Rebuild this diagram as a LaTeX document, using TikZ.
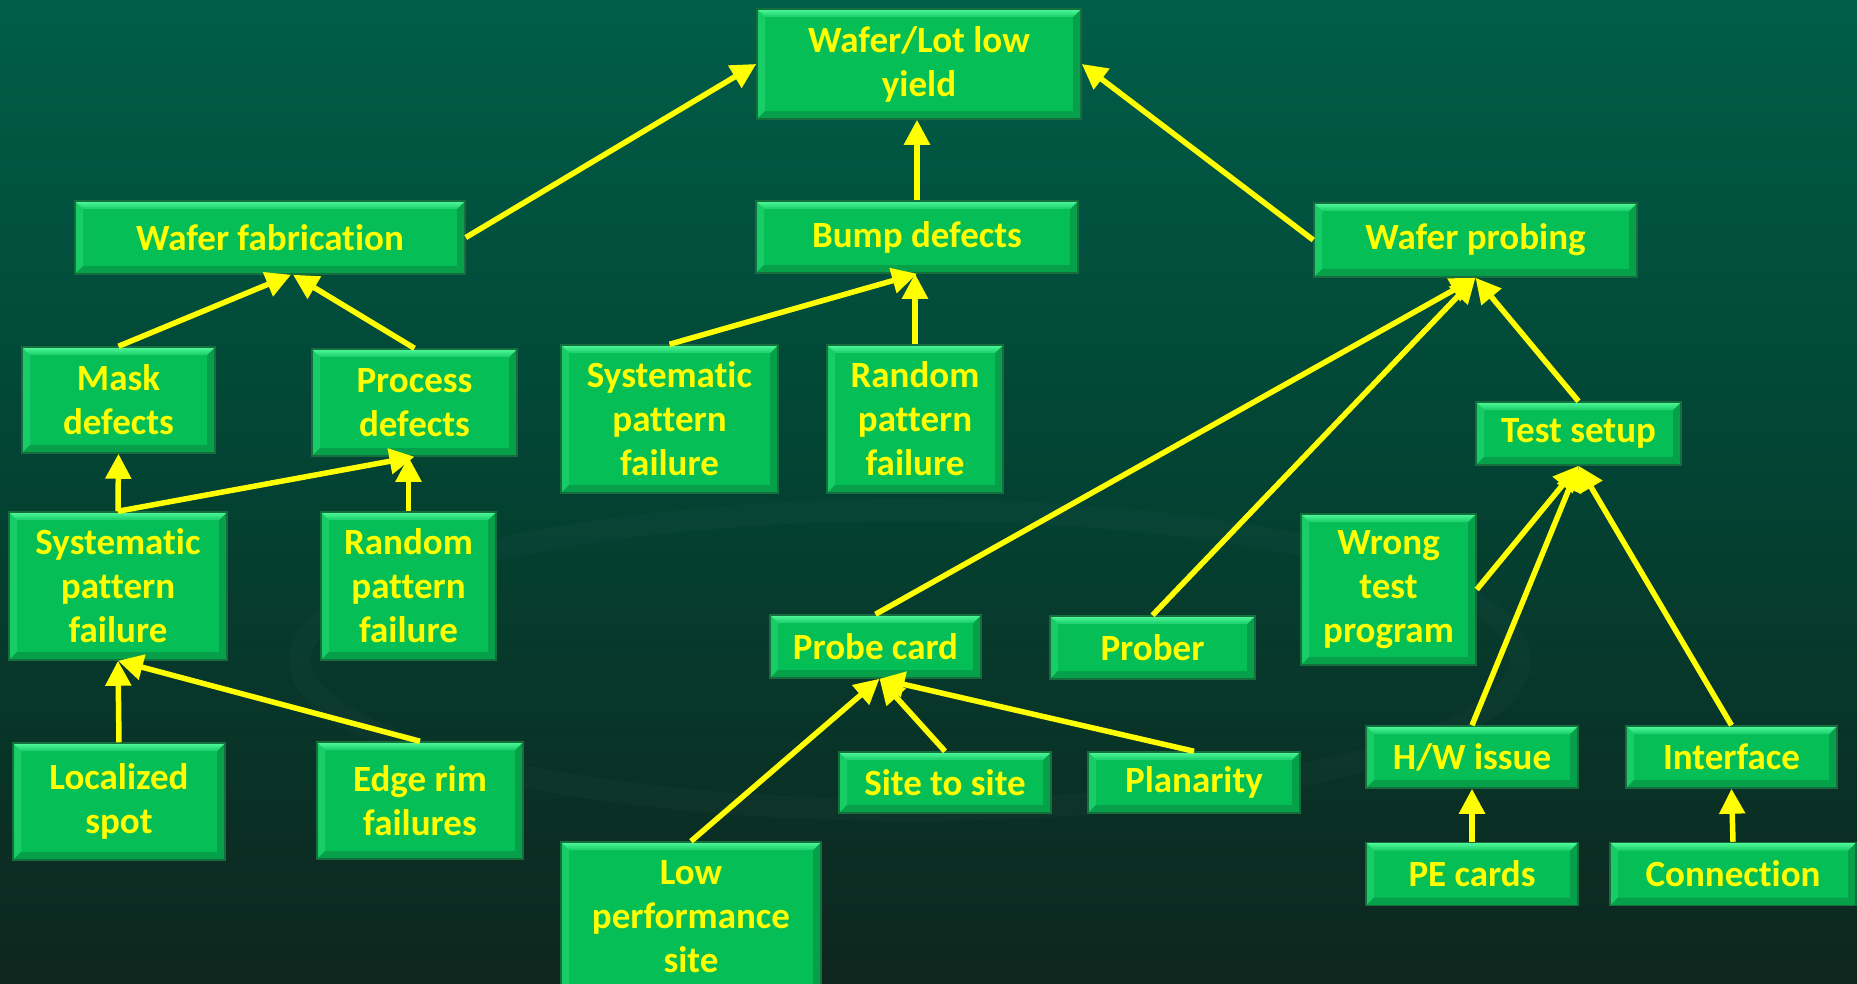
\documentclass[tikz,border=0pt]{standalone}
\usepackage{fontspec}
\setmainfont{Carlito}[Ligatures=NoCommon]
\usetikzlibrary{arrows.meta}

% palette
\definecolor{bgtop}{RGB}{0,108,82}
\definecolor{bgupper}{RGB}{0,94,72}
\definecolor{bgmid}{RGB}{3,66,50}
\definecolor{bglow}{RGB}{14,38,30}
\definecolor{bgbot}{RGB}{14,28,24}
\definecolor{boxfill}{RGB}{6,190,86}
\definecolor{boxline}{RGB}{22,110,60}
\definecolor{bevlight}{RGB}{80,250,155}
\definecolor{bevside}{RGB}{24,205,104}
\definecolor{bevdark}{RGB}{6,160,74}
\definecolor{arrowyellow}{RGB}{255,255,0}

\pgfdeclareverticalshading{bgshade}{100bp}{%
  color(0bp)=(bgbot); color(25bp)=(bglow); color(50bp)=(bgmid);
  color(75bp)=(bgupper); color(100bp)=(bgtop)}

\newcommand{\bev}{8pt}

\tikzset{
  box/.style={rectangle, fill=boxfill, draw=boxline, line width=1.5pt,
    text=arrowyellow, align=center, inner sep=0pt,
    font=\fontsize{37}{44}\selectfont\bfseries,
    path picture={
      \coordinate (pa) at (path picture bounding box.north west);
      \coordinate (pb) at (path picture bounding box.north east);
      \coordinate (pc) at (path picture bounding box.south east);
      \coordinate (pd) at (path picture bounding box.south west);
      \fill[bevside] (pa) -- ([xshift=\bev,yshift=-\bev]pa) -- ([xshift=\bev,yshift=\bev]pd) -- (pd) -- cycle;
      \fill[bevdark] (pb) -- ([xshift=-\bev,yshift=-\bev]pb) -- ([xshift=-\bev,yshift=\bev]pc) -- (pc) -- cycle;
      \fill[bevdark] (pd) -- ([xshift=\bev,yshift=\bev]pd) -- ([xshift=-\bev,yshift=\bev]pc) -- (pc) -- cycle;
      \shade[top color=bevlight, bottom color=bevside]
        (pa) -- (pb) -- ([xshift=-\bev,yshift=-\bev]pb) -- ([xshift=\bev,yshift=-\bev]pa) -- cycle;
    }},
  conn/.style={draw=arrowyellow, line width=5.5pt,
    -{Triangle[length=25pt,width=25pt]}},
  ring/.style={draw=white, draw opacity=0.02, line width=22pt}
}

\begin{document}
\begin{tikzpicture}[x=1pt,y=-1pt]
  \useasboundingbox (0,0) rectangle (1857,983);
  \shade[shading=bgshade] (0,0) rectangle (1857,983);
  % faint backdrop ring
  \draw[ring] (910,660) ellipse (610 and 150);

  % top level
  \node[box, minimum width=324pt, minimum height=110pt] (top) at (919,64) {Wafer/Lot low\\yield};

  % second level
  \node[box, minimum width=390pt, minimum height=73pt] (wfab) at (270,237.5) {Wafer fabrication};
  \node[box, minimum width=322pt, minimum height=72pt] (bump) at (917,237) {Bump defects};
  \node[box, minimum width=323pt, minimum height=74pt] (wprob) at (1475.5,240) {Wafer probing};

  % wafer fabrication branch
  \node[box, minimum width=193pt, minimum height=106pt] (mask) at (118.5,400) {Mask\\defects};
  \node[box, minimum width=205pt, minimum height=107pt] (process) at (414.5,402.5) {Process\\defects};
  \node[box, minimum width=218pt, minimum height=148pt] (sysL) at (118,586) {Systematic\\pattern\\failure};
  \node[box, minimum width=175pt, minimum height=148pt] (randL) at (408.5,586) {Random\\pattern\\failure};
  \node[box, minimum width=212pt, minimum height=117pt] (loc) at (119,801.5) {Localized\\spot};
  \node[box, minimum width=206pt, minimum height=117pt] (edge) at (420,800.5) {Edge rim\\failures};

  % bump branch
  \node[box, minimum width=217pt, minimum height=148pt] (sysM) at (669.5,419) {Systematic\\pattern\\failure};
  \node[box, minimum width=176pt, minimum height=148pt] (randM) at (915,419) {Random\\pattern\\failure};

  % probing branch
  \node[box, minimum width=211pt, minimum height=63pt] (probecard) at (875.5,646.5) {Probe card};
  \node[box, minimum width=205pt, minimum height=63pt] (prober) at (1152.5,647.5) {Prober};
  \node[box, minimum width=212pt, minimum height=61pt] (site) at (945,782.5) {Site to site};
  \node[box, minimum width=212pt, minimum height=61pt] (planarity) at (1194,782.5) {Planarity};
  \node[box, minimum width=260pt, minimum height=150pt] (lowperf) at (691,917) {Low\\performance\\site};
  \node[box, minimum width=205pt, minimum height=63pt] (testsetup) at (1578.5,433.5) {Test setup};
  \node[box, minimum width=175pt, minimum height=151pt] (wrong) at (1388.5,589.5) {Wrong\\test\\program};
  \node[box, minimum width=212pt, minimum height=62pt] (hw) at (1472,757) {H/W issue};
  \node[box, minimum width=211pt, minimum height=62pt] (interface) at (1731.5,757) {Interface};
  \node[box, minimum width=212pt, minimum height=63pt] (pe) at (1472,874) {PE cards};
  \node[box, minimum width=246pt, minimum height=63pt] (connection) at (1733,874) {Connection};

  % connectors
  \draw[conn] (wfab.east) -- (top.west);
  \draw[conn] (bump.north) -- (bump.north |- top.south);
  \draw[conn] (wprob.west) -- (top.east);

  \draw[conn] (mask.north) -- ([xshift=21pt]wfab.south);
  \draw[conn] (process.north) -- ([xshift=23pt]wfab.south);
  \draw[conn] (sysL.north) -- (mask.south);
  \draw[conn] (sysL.north) -- (process.south);
  \draw[conn] (randL.north) -- (randL.north |- process.south);
  \draw[conn] (loc.north) -- (sysL.south);
  \draw[conn] (edge.north) -- (sysL.south);

  \draw[conn] (sysM.north) -- (bump.south);
  \draw[conn] (randM.north) -- (randM.north |- bump.south);

  \draw[conn] (probecard.north) -- (wprob.south);
  \draw[conn] (prober.north) -- (wprob.south);
  \draw[conn] (testsetup.north) -- (wprob.south);
  \draw[conn] (lowperf.north) -- ([xshift=4pt]probecard.south);
  \draw[conn] (site.north) -- ([xshift=4pt]probecard.south);
  \draw[conn] (planarity.north) -- ([xshift=4pt]probecard.south);
  \draw[conn] (wrong.east) -- (testsetup.south);
  \draw[conn] (hw.north) -- (testsetup.south);
  \draw[conn] (interface.north) -- (testsetup.south);
  \draw[conn] (pe.north) -- (hw.south);
  \draw[conn] (connection.north) -- (interface.south);
\end{tikzpicture}
\end{document}
